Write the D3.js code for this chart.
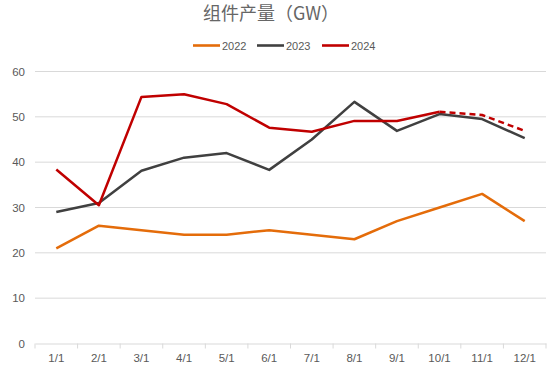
<!DOCTYPE html>
<html lang="zh">
<head>
    <meta charset="UTF-8">
    <title>组件产量（GW）</title>
    <script src="https://d3js.org/d3.v7.min.js"></script>
    <style>
        body { margin: 0; padding: 0; background: #fff; }
        svg { display: block; }
        text { font-family: "Noto Sans CJK SC", "Liberation Sans", sans-serif; fill: #595959; }
    </style>
</head>
<body>
<script>
    // Données
    var months = ["1/1", "2/1", "3/1", "4/1", "5/1", "6/1", "7/1", "8/1", "9/1", "10/1", "11/1", "12/1"];
    var v2022 = [21, 26, 25, 24, 24, 25, 24, 23, 27, 30, 33, 27];
    var v2023 = [29, 31, 38.1, 41, 42, 38.3, 45, 53.3, 46.9, 50.6, 49.5, 45.3];
    var v2024 = [38.4, 30.5, 54.4, 55, 52.8, 47.6, 46.7, 49.1, 49.1, 51.1, null, null];
    var v2024forecast = [null, null, null, null, null, null, null, null, null, 51.1, 50.4, 46.9];
    var yTicks = [0, 10, 20, 30, 40, 50, 60];

    var width = 550, height = 376;
    var margin = { left: 35, right: 4, top: 71.5, bottom: 32.5 };

    var svg = d3.select("body").append("svg")
        .attr("width", width)
        .attr("height", height);

    var x = d3.scaleBand().domain(months).range([margin.left, width - margin.right]);
    var y = d3.scaleLinear().domain([0, 60]).range([height - margin.bottom, margin.top]);

    // Titre
    svg.append("text")
        .attr("x", 271).attr("y", 20)
        .attr("text-anchor", "middle")
        .style("font-size", "18px")
        .style("fill", "#666")
        .text("组件产量（GW）");

    // Grille horizontale
    svg.append("g").selectAll("line")
        .data(yTicks.filter(function(d) { return d > 0; }))
        .join("line")
        .attr("x1", margin.left).attr("x2", width - margin.right)
        .attr("y1", function(d) { return y(d); }).attr("y2", function(d) { return y(d); })
        .style("stroke", "#d9d9d9").style("stroke-width", "1px");

    // Axe Y (étiquettes seulement)
    var yAxis = svg.append("g")
        .attr("transform", "translate(" + margin.left + ",0)")
        .call(d3.axisLeft(y).tickValues(yTicks).tickSize(0).tickPadding(10));
    yAxis.select(".domain").remove();
    yAxis.selectAll("text").style("font-size", "11.5px").style("fill", "#595959")
        .style("font-family", "\"Liberation Sans\", sans-serif");

    // Axe X
    var xAxis = svg.append("g")
        .attr("transform", "translate(0," + y(0) + ")")
        .call(d3.axisBottom(x).tickSize(0).tickPadding(10));
    xAxis.select(".domain").style("stroke", "#d9d9d9");
    xAxis.selectAll("text").style("font-size", "11.5px").style("fill", "#595959")
        .style("font-family", "\"Liberation Sans\", sans-serif");
    // petits repères entre les catégories
    var bounds = months.map(function(m) { return x(m); }).concat([x(months[11]) + x.bandwidth()]);
    xAxis.selectAll(".sep").data(bounds).join("line")
        .attr("class", "sep")
        .attr("x1", function(d) { return d; }).attr("x2", function(d) { return d; })
        .attr("y1", 0).attr("y2", 5)
        .style("stroke", "#d9d9d9").style("stroke-width", "1px");

    var line = d3.line()
        .defined(function(d) { return d != null; })
        .x(function(d, i) { return x(months[i]) + x.bandwidth() / 2; })
        .y(function(d) { return y(d); });

    var series = [
        { name: "2022", values: v2022, color: "#e46c0a", dash: null },
        { name: "2023", values: v2023, color: "#404040", dash: null },
        { name: "2024", values: v2024, color: "#c00000", dash: null },
        { name: "2024f", values: v2024forecast, color: "#c00000", dash: "6,4" }
    ];

    svg.append("g").selectAll("path")
        .data(series)
        .join("path")
        .attr("d", function(d) { return line(d.values); })
        .style("fill", "none")
        .style("stroke", function(d) { return d.color; })
        .style("stroke-width", "2.5px")
        .style("stroke-linejoin", "round")
        .style("stroke-dasharray", function(d) { return d.dash; });

    // Légende
    var legendItems = [
        { name: "2022", color: "#e46c0a", x: 193 },
        { name: "2023", color: "#404040", x: 257 },
        { name: "2024", color: "#c00000", x: 322 }
    ];
    var lg = svg.append("g").selectAll("g").data(legendItems).join("g")
        .attr("transform", function(d) { return "translate(" + d.x + ",45.5)"; });
    lg.append("line")
        .attr("x1", 0).attr("x2", 27).attr("y1", 0).attr("y2", 0)
        .style("stroke", function(d) { return d.color; })
        .style("stroke-width", "2.6px");
    lg.append("text")
        .attr("x", 29).attr("y", 4)
        .style("font-size", "11px")
        .style("font-family", "\"Liberation Sans\", sans-serif")
        .text(function(d) { return d.name; });
</script>
</body>
</html>
